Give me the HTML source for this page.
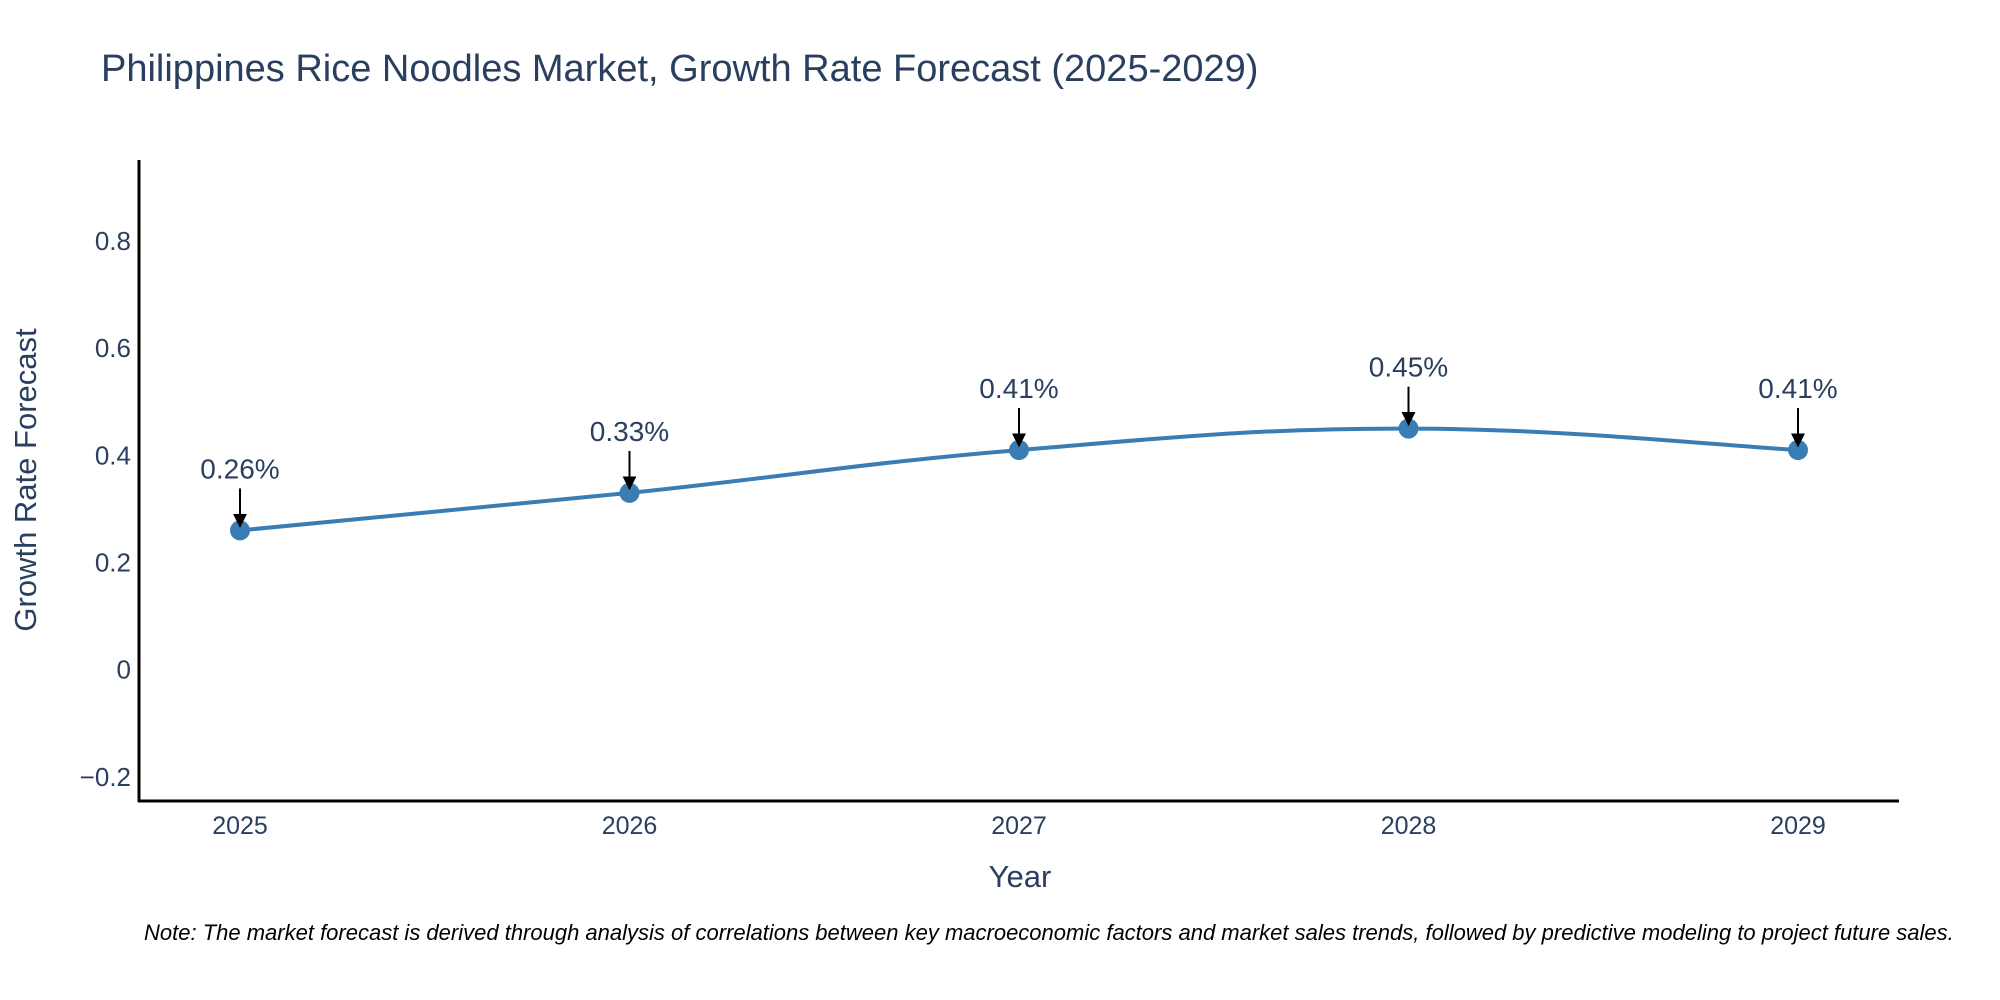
<!DOCTYPE html>
<html><head><meta charset="utf-8">
<style>
html,body{margin:0;padding:0;background:#fff;overflow:hidden;}
svg{display:block;font-family:"Liberation Sans","DejaVu Sans",sans-serif;}
</style></head>
<body>
<svg id="chart" width="2000" height="1000" viewBox="0 0 2000 1000">
  <defs>
    <marker id="arr" viewBox="0 0 10 10" refX="9" refY="5" markerWidth="7" markerHeight="7" orient="auto">
      <path d="M0,0 L10,5 L0,10 z" fill="#000"/>
    </marker>
  </defs>
  <rect width="2000" height="1000" fill="#fff"/>
  <text x="101" y="81" font-size="38" fill="#2a3f5f">Philippines Rice Noodles Market, Growth Rate Forecast (2025-2029)</text>
  <g id="yticks"></g>
  <g id="xticks"></g>
  <line x1="139" y1="160" x2="139" y2="802" stroke="#000" stroke-width="3"/>
  <line x1="138" y1="801" x2="1899" y2="801" stroke="#000" stroke-width="3"/>
  <path id="series-line" fill="none" stroke="#3a7db5" stroke-width="4"/>
  <g id="points"></g>
  <g id="annots"></g>
  <text x="1020" y="887" font-size="31" fill="#2a3f5f" text-anchor="middle">Year</text>
  <text transform="translate(36,480) rotate(-90)" font-size="31" fill="#2a3f5f" text-anchor="middle">Growth Rate Forecast</text>
  <text x="144" y="940" font-size="22" font-style="italic" fill="#000">Note: The market forecast is derived through analysis of correlations between key macroeconomic factors and market sales trends, followed by predictive modeling to project future sales.</text>
</svg>
<script>
const years = [2025, 2026, 2027, 2028, 2029];
const growth = [0.26, 0.33, 0.41, 0.45, 0.41];
const labels = ["0.26%", "0.33%", "0.41%", "0.45%", "0.41%"];
const yTickValues = [-0.2, 0, 0.2, 0.4, 0.6, 0.8];
const yTickLabels = ["\u22120.2", "0", "0.2", "0.4", "0.6", "0.8"];

const NS = "http://www.w3.org/2000/svg";
const yMin = -0.245, yMax = 0.95, yTop = 160.7, yBot = 801;
const xFirst = 240, xLast = 1798;
function xs(yr){ return xFirst + (yr - years[0]) * (xLast - xFirst) / (years[years.length-1] - years[0]); }
function ys(v){ return yBot - (v - yMin) * (yBot - yTop) / (yMax - yMin); }
function mk(tag, attrs){ const e = document.createElementNS(NS, tag); for (const k in attrs) e.setAttribute(k, attrs[k]); return e; }

const yt = document.getElementById('yticks');
yTickValues.forEach((v, i) => {
  const t = mk('text', {x: 131, y: ys(v) + 9, 'font-size': 26, fill: '#2a3f5f', 'text-anchor': 'end'});
  
  
  t.textContent = yTickLabels[i];
  yt.appendChild(t);
});
const xt = document.getElementById('xticks');
years.forEach(yr => {
  const t = mk('text', {x: xs(yr), y: 834, 'font-size': 25, fill: '#2a3f5f', 'text-anchor': 'middle'});
  
  
  t.textContent = String(yr);
  xt.appendChild(t);
});

const pts = years.map((yr, i) => [xs(yr), ys(growth[i])]);
let d = 'M' + pts[0][0] + ',' + pts[0][1];
const s = 0.2;
for (let i = 0; i < pts.length - 1; i++) {
  const p0 = pts[Math.max(0, i-1)], p1 = pts[i], p2 = pts[i+1], p3 = pts[Math.min(pts.length-1, i+2)];
  const c1 = [p1[0] + (p2[0]-p0[0])*s, p1[1] + (p2[1]-p0[1])*s];
  const c2 = [p2[0] - (p3[0]-p1[0])*s, p2[1] - (p3[1]-p1[1])*s];
  d += ' C' + c1[0] + ',' + c1[1] + ' ' + c2[0] + ',' + c2[1] + ' ' + p2[0] + ',' + p2[1];
}
document.getElementById('series-line').setAttribute('d', d);

const pg = document.getElementById('points');
const ag = document.getElementById('annots');
pts.forEach((p, i) => {
  const c = mk('circle', {cx: p[0], cy: p[1], r: 10, fill: '#3a7db5'});
  
  
  pg.appendChild(c);
  const ln = mk('line', {x1: p[0], y1: p[1] - 42, x2: p[0], y2: p[1] - 4, stroke: '#000', 'stroke-width': 2, 'marker-end': 'url(#arr)'});
  
  
  ag.appendChild(ln);
  const t = mk('text', {x: p[0], y: p[1] - 52, 'font-size': 28, fill: '#2a3f5f', 'text-anchor': 'middle'});
  
  
  t.textContent = labels[i];
  ag.appendChild(t);
});
</script>
</body></html>
